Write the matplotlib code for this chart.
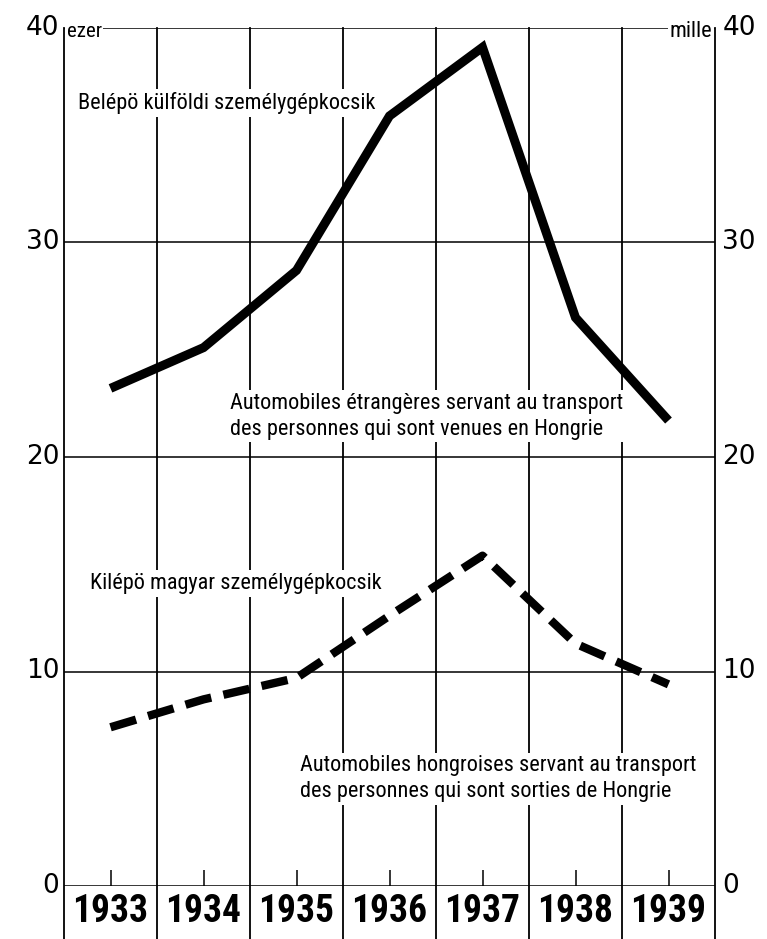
import matplotlib.pyplot as plt
from matplotlib import font_manager

years = [1933, 1934, 1935, 1936, 1937, 1938, 1939]
foreign_cars = [23.2, 25.1, 28.7, 35.9, 39.1, 26.5, 21.7]
hungarian_cars = [7.4, 8.7, 9.7, 12.6, 15.4, 11.3, 9.4]
y_ticks = [0, 10, 20, 30, 40]

installed = {f.name for f in font_manager.fontManager.ttflist}
condensed = [n for n in ["Roboto Condensed", "Liberation Sans Narrow", "Open Sans Condensed"]
             if n in installed]
narrow = condensed[:1] + ["DejaVu Sans"]
has_narrow = bool(condensed)

fig = plt.figure(figsize=(7.67, 9.39), dpi=100)
ax = fig.add_axes([64 / 767, 53 / 939, 651 / 767, 858 / 939])
ax.set_xlim(1932.5, 1939.5)
ax.set_ylim(0, 40)
ax.axis("off")

# grid: horizontal lines and year boundaries
for v in y_ticks:
    ax.axhline(v, color="black", lw=1.1, zorder=1)
for b in range(len(years) + 1):
    xb = years[0] - 0.5 + b
    ax.axvline(xb, ymin=-0.07, ymax=1, color="black", lw=1.3, clip_on=False, zorder=1)
ax.vlines(years, 0, 0.75, color="black", lw=1.1, zorder=1)

# y labels on both sides
for v in y_ticks:
    ax.text(1932.45, v, str(v), ha="right", va="center", fontsize=19, family="DejaVu Sans")
    ax.text(1939.58, v, str(v), ha="left", va="center", fontsize=19, family="DejaVu Sans")
ax.text(1932.53, 39.85, "ezer", ha="left", va="center", fontsize=15, family=narrow,
        fontstretch="condensed", bbox=dict(facecolor="white", edgecolor="none", pad=1),
        zorder=2)
ax.text(1939.47, 39.85, "mille", ha="right", va="center", fontsize=16, family=narrow,
        fontstretch="condensed", bbox=dict(facecolor="white", edgecolor="none", pad=1),
        zorder=2)

# year labels
year_size = 27 if has_narrow else 19
for yr in years:
    ax.text(yr, -1.2, str(yr), ha="center", va="center", fontsize=year_size,
            fontweight="bold", fontstretch="condensed", family=narrow)

# data lines
ax.plot(years, foreign_cars, color="black", lw=6.5, solid_capstyle="butt",
        solid_joinstyle="miter", zorder=3)
ax.plot(years, hungarian_cars, color="black", lw=6, dashes=(3.2, 1.5),
        dash_capstyle="butt", zorder=3)

# annotations
note_size = 16 if has_narrow else 12.5
box = dict(facecolor="white", edgecolor="none", pad=2)
ax.text(1932.65, 36.5, "Belépö külföldi személygépkocsik", ha="left", va="center",
        fontsize=note_size, family=narrow, fontstretch="condensed", bbox=box, zorder=2)
ax.text(1934.28, 21.9, "Automobiles étrangères servant au transport\n"
        "des personnes qui sont venues en Hongrie", ha="left", va="center",
        fontsize=note_size, family=narrow, fontstretch="condensed", linespacing=1.3,
        bbox=box, zorder=2)
ax.text(1932.78, 14.1, "Kilépö magyar személygépkocsik", ha="left", va="center",
        fontsize=note_size, family=narrow, fontstretch="condensed", bbox=box, zorder=2)
ax.text(1935.04, 5.0, "Automobiles hongroises servant au transport\n"
        "des personnes qui sont sorties de Hongrie", ha="left", va="center",
        fontsize=note_size, family=narrow, fontstretch="condensed", linespacing=1.3,
        bbox=box, zorder=2)

fig.savefig("out.png", dpi=100)
plt.close(fig)
